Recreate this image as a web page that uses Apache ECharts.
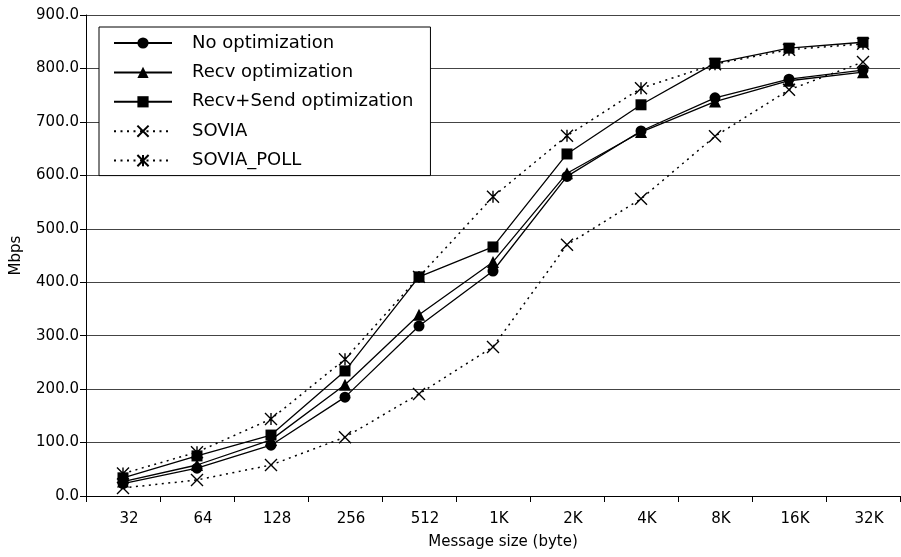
<!DOCTYPE html>
<html lang="en">
<head>
    <meta charset="UTF-8">
    <title>Message size vs Mbps</title>
    <style>
        *{ padding:0; margin:0; }
        html, body { background:#fff; }
    </style>
    <script type="text/javascript" src="https://cdn.jsdelivr.net/npm/echarts@6/dist/echarts.min.js"></script>
</head>
<body>
    <div id="main" style="width:901px;height:557px;"></div>
    <script type="text/javascript">
    var sizes = ['32', '64', '128', '256', '512', '1K', '2K', '4K', '8K', '16K', '32K'];
    var noOpt = [23, 52, 95, 185, 318, 421, 598, 683, 745, 780, 797];
    var recvOpt = [27, 58, 105, 208, 339, 438, 604, 681, 738, 777, 793];
    var recvSendOpt = [34, 75, 114, 234, 410, 466, 640, 732, 810, 838, 849];
    var sovia = [15, 30, 58, 110, 191, 279, 470, 556, 673, 760, 812];
    var soviaPoll = [42, 82, 144, 256, 410, 560, 674, 763, 808, 835, 846];

    var FONT = '"DejaVu Sans", Verdana, sans-serif';
    var CROSS = 'path://M0,0L10,10M10,0L0,10';
    var STAR = 'path://M0,0L10,10M10,0L0,10M5,0L5,10';

    function solid(name, data, symbol, size) {
        return {
            name: name, type: 'line', data: data, z: 3,
            symbol: symbol, symbolSize: size, showAllSymbol: true,
            lineStyle: { color: '#000', width: 1.3, type: 'solid' },
            itemStyle: { color: '#000', borderColor: '#000', borderWidth: 0 }
        };
    }
    function dotted(name, data, symbol) {
        return {
            name: name, type: 'line', data: data, z: 2,
            symbol: symbol, symbolSize: 12, showAllSymbol: true,
            lineStyle: { color: '#000', width: 1.5, type: [2, 4.5] },
            itemStyle: { color: 'rgba(0,0,0,0)', borderColor: '#000', borderWidth: 1.4 }
        };
    }

    var myChart = echarts.init(document.getElementById('main'));
    var option = {
        animation: false,
        backgroundColor: '#fff',
        textStyle: { fontFamily: FONT, color: '#000' },
        grid: { left: 86, right: 1, top: 15, bottom: 61, containLabel: false },
        legend: {
            orient: 'vertical',
            left: 99, top: 27,
            padding: [7, 17, 6, 14],
            itemWidth: 58, itemHeight: 14, itemGap: 11.4,
            borderColor: '#000', borderWidth: 1,
            backgroundColor: '#fff',
            textStyle: { fontFamily: FONT, fontSize: 18, color: '#000', padding: [0, 0, 0, 15] },
            data: ['No optimization', 'Recv optimization', 'Recv+Send optimization', 'SOVIA', 'SOVIA_POLL']
        },
        xAxis: {
            type: 'category',
            data: sizes,
            boundaryGap: true,
            name: 'Message size (byte)',
            nameLocation: 'middle',
            nameGap: 39,
            nameTextStyle: { fontFamily: FONT, fontSize: 15, color: '#000', padding: [0, 0, 0, 20] },
            axisLine: { lineStyle: { color: '#000', width: 1 } },
            axisTick: { show: true, length: 6, lineStyle: { color: '#000' } },
            axisLabel: { fontFamily: FONT, fontSize: 15, color: '#000', margin: 16, padding: [0, 0, 0, 12] },
            splitLine: { show: false }
        },
        yAxis: {
            type: 'value',
            min: 0, max: 900, interval: 100,
            name: 'Mbps',
            nameLocation: 'middle',
            nameGap: 62,
            nameTextStyle: { fontFamily: FONT, fontSize: 15, color: '#000' },
            axisLine: { show: true, lineStyle: { color: '#000', width: 1 } },
            axisTick: { show: true, length: 6, lineStyle: { color: '#000' } },
            axisLabel: {
                fontFamily: FONT, fontSize: 15, color: '#000', margin: 7,
                formatter: function (v) { return v.toFixed(1); }
            },
            splitLine: { show: true, lineStyle: { color: '#444', width: 1 } }
        },
        series: [
            solid('No optimization', noOpt, 'circle', 11),
            solid('Recv optimization', recvOpt, 'triangle', 12),
            solid('Recv+Send optimization', recvSendOpt, 'rect', 11),
            dotted('SOVIA', sovia, CROSS),
            dotted('SOVIA_POLL', soviaPoll, STAR)
        ]
    };
    myChart.setOption(option);
    </script>
</body>
</html>
